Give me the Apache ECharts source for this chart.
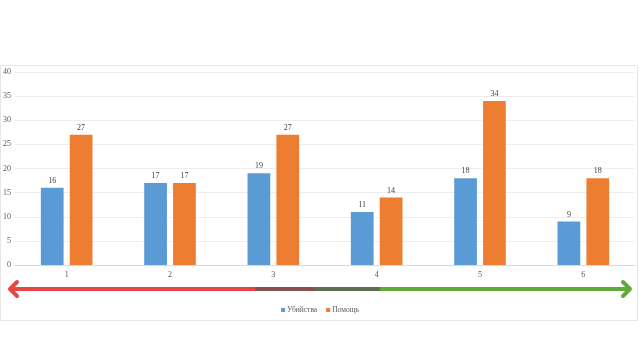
<!DOCTYPE html>
<html><head><meta charset="utf-8">
<script src="https://cdn.jsdelivr.net/npm/echarts@6/dist/echarts.min.js"></script>
<style>html,body{margin:0;padding:0;background:#fff}#c{width:640px;height:360px}</style>
</head><body><div id="c"></div>
<script>
var categories = ['1','2','3','4','5','6'];
var seriesNames = ['Убийства','Помощь'];
var killings = [16,17,19,11,18,9];
var help = [27,17,27,14,34,18];
var yTicks = {min:0,max:40,interval:5};

var chart = echarts.init(document.getElementById('c'), null, {renderer:'canvas'});
var font = 'Liberation Serif, Times New Roman, serif';
var arrowY = 289;
chart.setOption({
  animation:false,
  backgroundColor:'#fff',
  textStyle:{fontFamily:font},
  grid:{left:15,right:5,top:72,bottom:95,containLabel:false},
  legend:{
    data:seriesNames, top:306, left:'center', itemWidth:4, itemHeight:4,
    itemGap:9, icon:'rect', padding:0,
    textStyle:{fontFamily:font,fontSize:7.5,color:'#595959',padding:[0,0,0,-3]}
  },
  xAxis:{
    type:'category', data:categories,
    axisLine:{lineStyle:{color:'#D9D9D9'}}, axisTick:{show:false},
    axisLabel:{fontFamily:font,fontSize:8,color:'#595959',margin:6}
  },
  yAxis:{
    type:'value', min:yTicks.min, max:yTicks.max, interval:yTicks.interval,
    axisLine:{show:false}, axisTick:{show:false},
    splitLine:{lineStyle:{color:'#EDEDED'}},
    axisLabel:{fontFamily:font,fontSize:8,color:'#595959',margin:4}
  },
  series:[
    {name:seriesNames[0],type:'bar',data:killings,barWidth:'22%',barGap:'27%',
     itemStyle:{color:'#5B9BD5'},
     label:{show:true,position:'top',fontFamily:font,fontSize:8,color:'#404040',distance:3}},
    {name:seriesNames[1],type:'bar',data:help,barWidth:'22%',
     itemStyle:{color:'#ED7D31'},
     label:{show:true,position:'top',fontFamily:font,fontSize:8,color:'#404040',distance:3}}
  ],
  graphic:[
    {type:'rect',shape:{x:0.5,y:65.5,width:637,height:255},style:{fill:'none',stroke:'#E6E6E6',lineWidth:1},z:-1},
    {type:'line',shape:{x1:10,y1:arrowY,x2:255,y2:arrowY},style:{stroke:'#E84545',lineWidth:4}},
    {type:'line',shape:{x1:255,y1:arrowY,x2:315,y2:arrowY},style:{stroke:'#8A4F50',lineWidth:4}},
    {type:'line',shape:{x1:315,y1:arrowY,x2:380,y2:arrowY},style:{stroke:'#5E6E50',lineWidth:4}},
    {type:'line',shape:{x1:380,y1:arrowY,x2:630,y2:arrowY},style:{stroke:'#62A83A',lineWidth:4}},
    {type:'polyline',shape:{points:[[17,arrowY-7],[10,arrowY],[17,arrowY+7]]},style:{stroke:'#E84545',lineWidth:4,fill:'none',lineJoin:'round',lineCap:'round'}},
    {type:'polyline',shape:{points:[[623,arrowY-7],[630,arrowY],[623,arrowY+7]]},style:{stroke:'#62A83A',lineWidth:4,fill:'none',lineJoin:'round',lineCap:'round'}}
  ]
});
</script></body></html>
